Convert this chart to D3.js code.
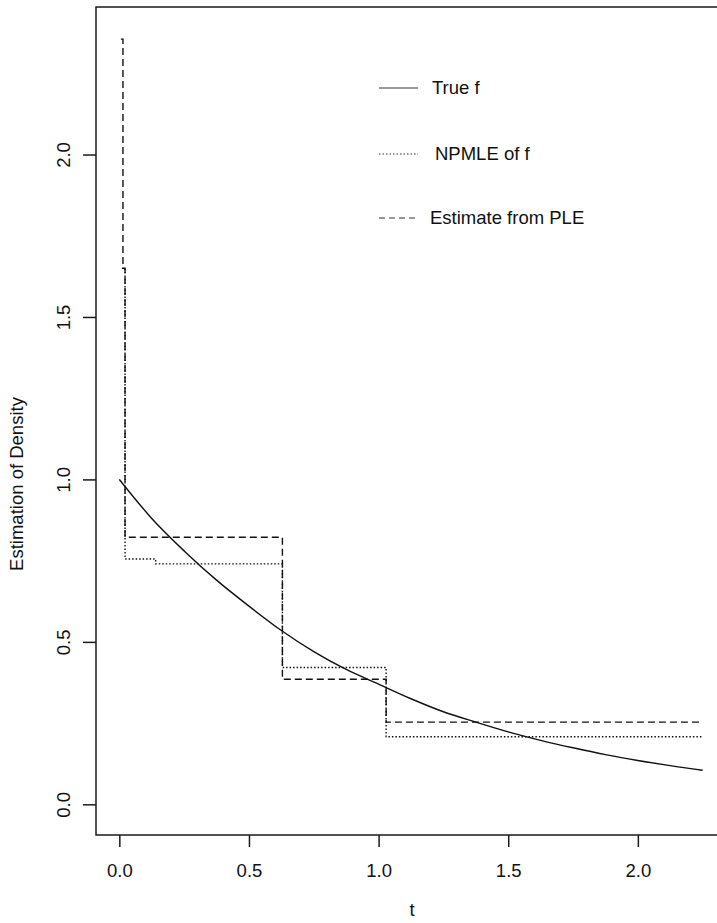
<!DOCTYPE html>
<html>
<head>
<meta charset="utf-8">
<script src="https://cdn.jsdelivr.net/npm/d3@7"></script>
<style>
  body { margin: 0; background: #fff; }
  svg text { font-family: "Liberation Sans", Arial, sans-serif; fill: #111; }
</style>
</head>
<body>
<div id="chart"></div>
<script>
// true density
const trueT = [0, 0.125, 0.25, 0.375, 0.5, 0.625, 0.75, 0.875, 1.0, 1.125, 1.25, 1.375, 1.5, 1.625, 1.75, 1.875, 2.0, 2.125, 2.25];
const trueF = [1.0, 0.88, 0.78, 0.69, 0.61, 0.535, 0.47, 0.415, 0.37, 0.325, 0.285, 0.253, 0.223, 0.197, 0.174, 0.153, 0.135, 0.119, 0.105];

// step estimates: break points and level on each interval
const npmleT = [0.01, 0.022, 0.14, 0.629, 1.029, 2.246];
const npmleF = [1.65, 0.755, 0.74, 0.421, 0.208];

const pleT = [0.006, 0.014, 0.022, 0.629, 1.029, 2.246];
const pleF = [2.355, 1.65, 0.822, 0.385, 0.253];

const xTicks = [0.0, 0.5, 1.0, 1.5, 2.0];
const yTicks = [0.0, 0.5, 1.0, 1.5, 2.0];

const legendLabels = ["True f", "NPMLE of f", "Estimate from PLE"];

const width = 717, height = 923;
const margin = { top: 7, right: -9, bottom: 88, left: 96 };
const fontSize = "18.5px";

const svg = d3.select("#chart").append("svg")
  .attr("width", width)
  .attr("height", height);

const x = d3.scaleLinear()
  .domain([-0.09, 2.34])
  .range([margin.left, width - margin.right]);

const y = d3.scaleLinear()
  .domain([-0.0944, 2.454])
  .range([height - margin.bottom, margin.top]);

// turn break points + levels into step points
function steps(ts, vs) {
  const pts = [];
  vs.forEach((v, i) => {
    pts.push([ts[i], v]);
    pts.push([ts[i + 1], v]);
  });
  return pts;
}

const line = d3.line().x(d => x(d[0])).y(d => y(d[1]));

// frame
svg.append("rect")
  .attr("x", x(-0.09))
  .attr("y", y(2.454))
  .attr("width", x(2.34) - x(-0.09))
  .attr("height", y(-0.0944) - y(2.454))
  .attr("fill", "none")
  .attr("stroke", "#1a1a1a")
  .attr("stroke-width", 1.5);

// axes
const xAxis = d3.axisBottom(x)
  .tickValues(xTicks)
  .tickSize(12)
  .tickFormat(d3.format(".1f"));

const gx = svg.append("g")
  .attr("transform", `translate(0, ${y(-0.0944)})`)
  .call(xAxis);
gx.select(".domain").remove();
gx.selectAll(".tick line").attr("stroke", "#1a1a1a").attr("stroke-width", 1.5);
gx.selectAll(".tick text")
  .attr("y", 42)
  .attr("dy", null)
  .style("font-size", fontSize)
  .style("font-family", "Liberation Sans, Arial, sans-serif")
  .attr("fill", "#111");

const yAxis = d3.axisLeft(y)
  .tickValues(yTicks)
  .tickSize(13)
  .tickFormat(d3.format(".1f"));

const gy = svg.append("g")
  .attr("transform", `translate(${x(-0.09)}, 0)`)
  .call(yAxis);
gy.select(".domain").remove();
gy.selectAll(".tick line").attr("stroke", "#1a1a1a").attr("stroke-width", 1.5);
gy.selectAll(".tick text")
  .attr("x", null)
  .attr("dy", null)
  .attr("transform", "translate(-26, 0) rotate(-90)")
  .attr("text-anchor", "middle")
  .style("font-size", fontSize)
  .style("font-family", "Liberation Sans, Arial, sans-serif")
  .attr("fill", "#111");

// axis titles
svg.append("text")
  .attr("transform", "translate(23, 484) rotate(-90)")
  .attr("text-anchor", "middle")
  .style("font-size", fontSize)
  .text("Estimation of Density");

svg.append("text")
  .attr("x", 412)
  .attr("y", 916)
  .attr("text-anchor", "middle")
  .style("font-size", fontSize)
  .text("t");

// curves
svg.append("path")
  .datum(trueT.map((t, i) => [t, trueF[i]]))
  .attr("fill", "none")
  .attr("stroke", "#111")
  .attr("stroke-width", 1.4)
  .attr("d", line.curve(d3.curveMonotoneX));

svg.append("path")
  .datum(steps(npmleT, npmleF))
  .attr("fill", "none")
  .attr("stroke", "#111")
  .attr("stroke-width", 1.4)
  .attr("stroke-dasharray", "1.5,2")
  .attr("d", line.curve(d3.curveLinear));

svg.append("path")
  .datum(steps(pleT, pleF))
  .attr("fill", "none")
  .attr("stroke", "#111")
  .attr("stroke-width", 1.4)
  .attr("stroke-dasharray", "7,4")
  .attr("d", line.curve(d3.curveLinear));

// legend
const legendY = [88, 154, 218];
const legendTextX = [432, 435, 430];
const dashes = [null, "1.5,2", "6,4"];

legendLabels.forEach((lbl, i) => {
  svg.append("line")
    .attr("x1", 379).attr("x2", 418)
    .attr("y1", legendY[i]).attr("y2", legendY[i])
    .attr("stroke", "#333")
    .attr("stroke-width", 1.2)
    .attr("stroke-dasharray", dashes[i]);
  svg.append("text")
    .attr("x", legendTextX[i])
    .attr("y", legendY[i] + 6)
    .style("font-size", fontSize)
    .text(lbl);
});
</script>
</body>
</html>
